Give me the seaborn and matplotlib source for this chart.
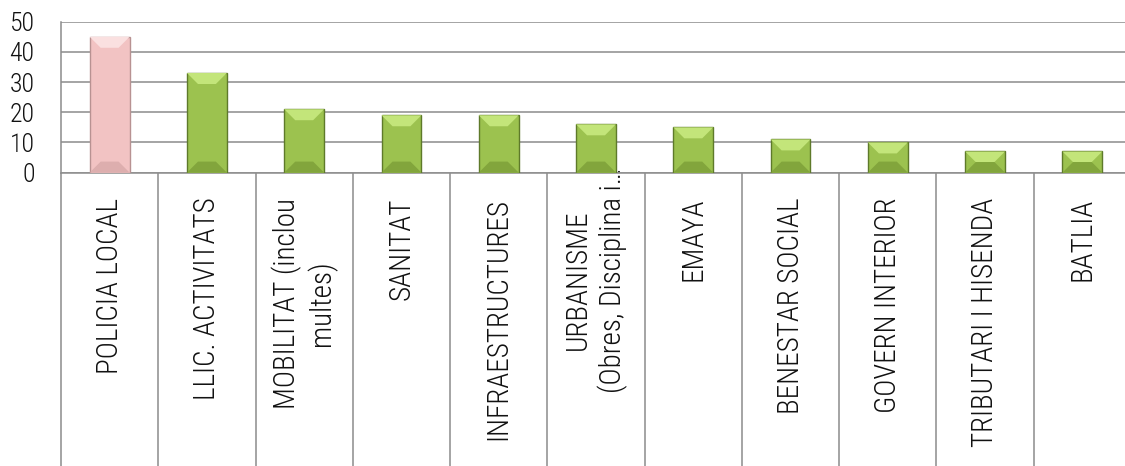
import matplotlib
matplotlib.use("Agg")
import matplotlib.pyplot as plt
from matplotlib import font_manager
from matplotlib.patches import Polygon
from matplotlib.transforms import ScaledTranslation
import seaborn as sns
import pandas as pd
import numpy as np

categories = ["POLICIA LOCAL", "LLIC. ACTIVITATS", "MOBILITAT (inclou\nmultes)", "SANITAT",
              "INFRAESTRUCTURES", "URBANISME\n(Obres, Disciplina i…", "EMAYA",
              "BENESTAR SOCIAL", "GOVERN INTERIOR", "TRIBUTARI I HISENDA", "BATLIA"]
values = [45, 33, 21, 19, 19, 16, 15, 11, 10, 7, 7]
yticks = [0, 10, 20, 30, 40, 50]

fill_colors = ["#F2C3C3"] + ["#9CC24F"] * 10
edge_colors = ["#B89292"] + ["#5E7A2A"] * 10
light_colors = ["#FAE0E0"] + ["#C3E57A"] * 10
dark_colors = ["#DDAEAE"] + ["#82A53C"] * 10

sns.set_theme(style="white")
fam = "DejaVu Sans"
for cand in ["Liberation Sans Narrow", "Roboto Condensed", "Open Sans"]:
    try:
        font_manager.findfont(cand, fallback_to_default=False)
        fam = cand
        break
    except Exception:
        pass
plt.rcParams["font.family"] = [fam, "DejaVu Sans"]
plt.rcParams["font.weight"] = "light"

fig = plt.figure(figsize=(11.25, 4.66), dpi=100)
ax = fig.add_axes([61 / 1125, 293.4 / 466, 1070 / 1125, 150.9 / 466])

df = pd.DataFrame({"cat": categories, "val": values})
sns.barplot(data=df, x="cat", y="val", hue="cat", palette=fill_colors, legend=False,
            width=0.41, ax=ax, zorder=3, linewidth=1.0, saturation=1)

ax.set_xlim(-0.5, len(categories) - 0.5)
ax.set_ylim(0, 50)
ax.set_yticks(yticks)
ax.set_yticklabels([str(v) for v in yticks])
ax.set_xlabel("")
ax.set_ylabel("")

grid_c = "#8C8C8C"
ax.yaxis.grid(True, color=grid_c, linewidth=1.1, zorder=0)
ax.set_axisbelow(True)
for s in ["top", "right"]:
    ax.spines[s].set_visible(False)
for s in ["left", "bottom"]:
    ax.spines[s].set_color(grid_c)
    ax.spines[s].set_linewidth(1.1)

# category separators below the axis
ax.set_xticks(np.arange(len(categories) + 1) - 0.5, minor=True)
ax.tick_params(axis="x", which="minor", bottom=True, length=212, width=1.1, color=grid_c,
               direction="out")
ax.tick_params(axis="x", which="major", bottom=True, length=0, pad=18, labelsize=21,
               labelrotation=90)
ax.tick_params(axis="y", which="major", left=True, length=0, pad=19, labelsize=18.5)
for lbl in ax.get_xticklabels():
    lbl.set_multialignment("center")
    lbl.set_color("#111111")
    lbl.set_fontweight("light")
for lbl in ax.get_yticklabels():
    lbl.set_color("#111111")
    lbl.set_fontweight("light")

# long truncated label sits higher, as in the source chart
tk = ax.xaxis.get_major_ticks()[5]
tk.label1.set_transform(tk.label1.get_transform() + ScaledTranslation(0, 30 / 100, fig.dpi_scale_trans))

# bevel effect on each bar, computed from the bar geometry
fig.canvas.draw()
inv = ax.transData.inverted()
bars = [p for p in ax.patches][:len(values)]
for i, p in enumerate(bars):
    p.set_edgecolor(edge_colors[i])
    x0, y0 = p.get_x(), p.get_y()
    w, h = p.get_width(), p.get_height()
    (dx0, dy0) = ax.transData.transform((x0, y0))
    (dx1, dy1) = ax.transData.transform((x0 + w, y0 + h))
    bev = min(11, (dy1 - dy0) / 2, (dx1 - dx0) / 2)
    pts = lambda arr: [tuple(inv.transform(pt)) for pt in arr]
    top = pts([(dx0, dy1), (dx1, dy1), (dx1 - bev, dy1 - bev), (dx0 + bev, dy1 - bev)])
    bot = pts([(dx0, dy0), (dx1, dy0), (dx1 - bev, dy0 + bev), (dx0 + bev, dy0 + bev)])
    ax.add_patch(Polygon(top, closed=True, facecolor=light_colors[i], edgecolor="none", zorder=3.5))
    ax.add_patch(Polygon(bot, closed=True, facecolor=dark_colors[i], edgecolor="none", zorder=3.5))

fig.savefig("out.png", dpi=100)
